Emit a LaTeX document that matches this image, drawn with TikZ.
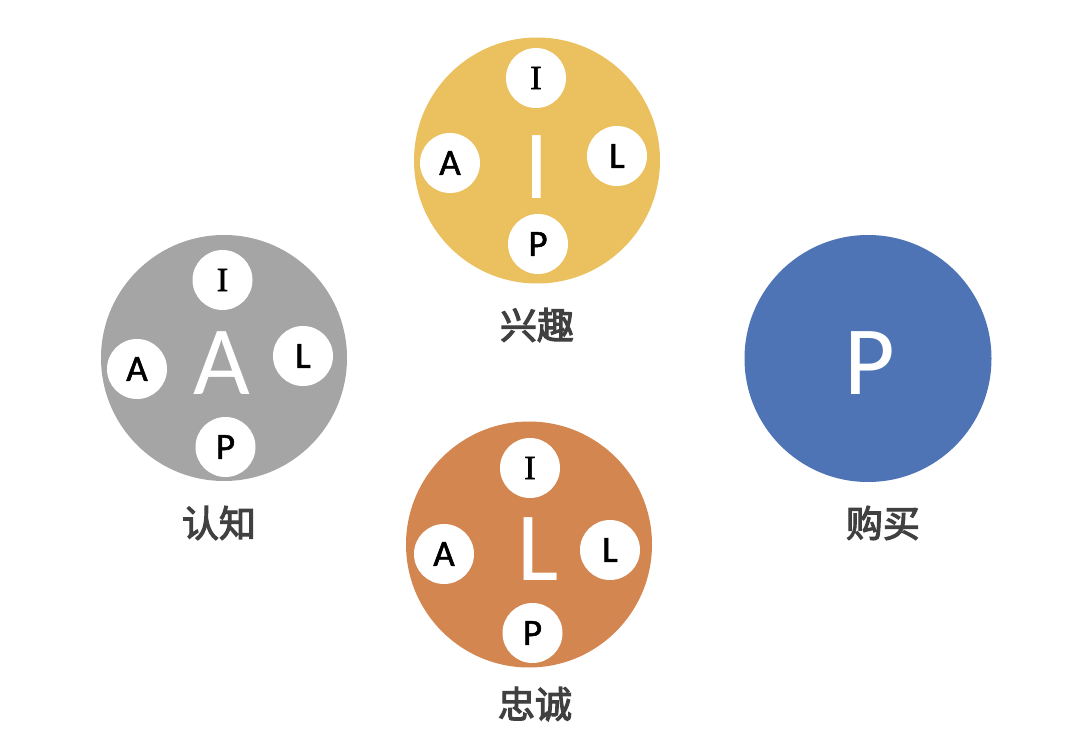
\documentclass[tikz,border=0pt]{standalone}
\usepackage{fontspec}
\setmainfont{Carlito}
\newfontfamily\cjk{Noto Sans CJK SC}[FakeBold=3]
\newfontfamily\dotfont{Carlito}[FakeBold=1.5]
\newfontfamily\serifI{Liberation Serif}[FakeBold=2]
\definecolor{awaregray}{HTML}{A5A5A5}
\definecolor{interestgold}{HTML}{EBC05E}
\definecolor{loyalorange}{HTML}{D3864F}
\definecolor{buyblue}{HTML}{4E74B6}
\definecolor{labelgray}{HTML}{404040}
\begin{document}
\begin{tikzpicture}[x=1pt, y=-1pt,
    disc/.style={circle, minimum size=246pt, inner sep=0pt},
    bigletter/.style={text=white, inner sep=0pt, font=\fontsize{98}{98}\selectfont},
    dot/.style={circle, fill=white, minimum size=60pt, inner sep=0pt, font=\dotfont\fontsize{37}{37}\selectfont},
    dotI/.style={dot, font=\serifI\fontsize{34}{34}\selectfont},
    stage/.style={text=labelgray, inner sep=0pt, font=\cjk\fontsize{37}{37}\selectfont}]
      \useasboundingbox (0,0) rectangle (1080,754);

      % awareness
      \node[disc, fill=awaregray] (aware) at (224,358) {};
      \node[bigletter] (awareA) at (222,363) {A};
      \node[dotI] (aware-i) at (222.5,280) {I};
      \node[dot] (aware-a) at (137,369) {A};
      \node[dot] (aware-l) at (303,356) {L};
      \node[dot] (aware-p) at (225.5,447) {P};
      \node[stage] (aware-text) at (219,523) {认知};

      % interest
      \node[disc, fill=interestgold] (interest) at (537,160.5) {};
      \node[bigletter] (interestI) at (537,167) {I};
      \node[dotI] (interest-i) at (536,78) {I};
      \node[dot] (interest-a) at (450,163) {A};
      \node[dot] (interest-l) at (617,156) {L};
      \node[dot] (interest-p) at (538,244) {P};
      \node[stage] (interest-text) at (537,325) {兴趣};

      % loyalty
      \node[disc, fill=loyalorange] (loyal) at (529,544.5) {};
      \node[bigletter] (loyalL) at (538,549) {L};
      \node[dotI] (loyal-i) at (530,468) {I};
      \node[dot] (loyal-a) at (444,554) {A};
      \node[dot] (loyal-l) at (610,550) {L};
      \node[dot] (loyal-p) at (532.5,633) {P};
      \node[stage] (loyal-text) at (535,704) {忠诚};

      % purchase
      \node[disc, fill=buyblue, minimum size=247pt] (buy) at (868,358.5) {};
      \node[bigletter] (buyP) at (870,363) {P};
      \node[stage] (buy-text) at (883,523) {购买};
    \end{tikzpicture}
\end{document}
